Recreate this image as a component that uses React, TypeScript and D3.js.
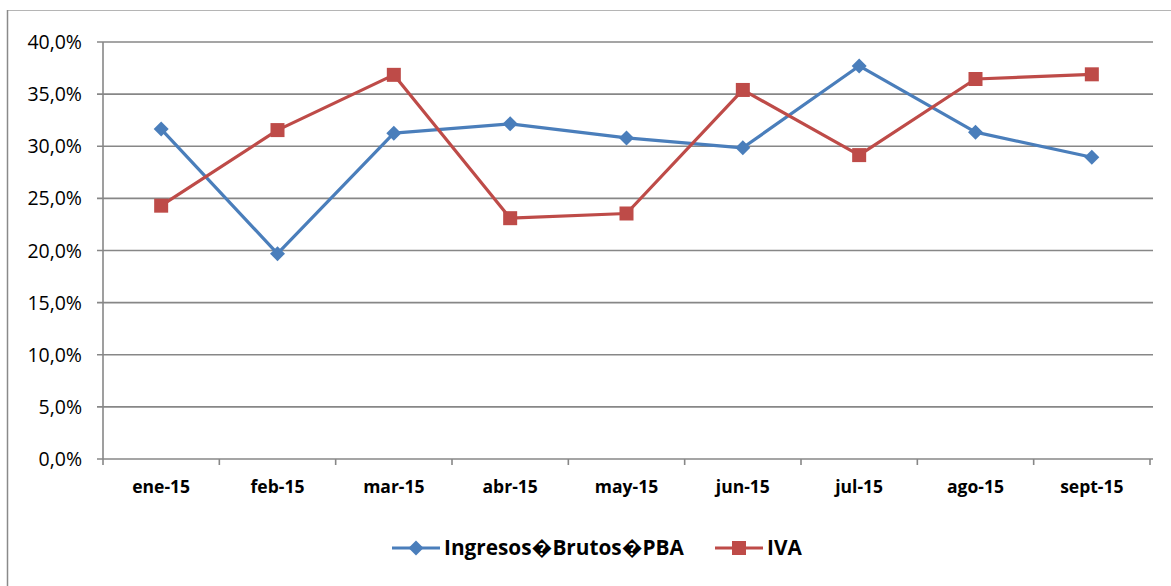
import { useEffect, useRef } from "react";
import * as d3 from "d3";

const months = ["ene-15", "feb-15", "mar-15", "abr-15", "may-15", "jun-15", "jul-15", "ago-15", "sept-15"];
const ingresosBrutos = [31.65, 19.7, 31.25, 32.15, 30.8, 29.85, 37.7, 31.35, 28.95];
const iva = [24.3, 31.55, 36.85, 23.1, 23.55, 35.4, 29.15, 36.45, 36.9];
const yTicks = [0, 5, 10, 15, 20, 25, 30, 35, 40];

const seriesList = [
  { name: "Ingresos\uFFFDBrutos\uFFFDPBA", values: ingresosBrutos, color: "#4a7ebb", marker: "diamond" },
  { name: "IVA", values: iva, color: "#be4b48", marker: "square" },
];

const App = () => {
  const svgRef = useRef<SVGSVGElement>(null);

  useEffect(() => {
    if (!svgRef.current) return;
    const svg = d3.select(svgRef.current);
    svg.selectAll("*").remove();

    const width = 1171;
    const height = 586;
    const margin = { top: 42, right: 21, bottom: 127, left: 103 };
    const innerWidth = width - margin.left - margin.right;
    const innerHeight = height - margin.top - margin.bottom;
    const font = "'Open Sans', Lato, sans-serif";
    const grid = "#878787";

    svg.attr("width", width).attr("height", height);

    // borde del gráfico
    svg.append("line").attr("x1", 7).attr("x2", width).attr("y1", 10.5).attr("y2", 10.5)
      .attr("stroke", "#b5b5b5").attr("stroke-width", 1.2);
    svg.append("line").attr("x1", 7.5).attr("x2", 7.5).attr("y1", 10).attr("y2", height)
      .attr("stroke", "#8a8a8a").attr("stroke-width", 1.5);

    const g = svg.append("g").attr("transform", `translate(${margin.left},${margin.top})`);

    const x = d3.scaleBand().domain(months).range([0, innerWidth]);
    const y = d3.scaleLinear().domain([0, 40]).range([innerHeight, 0]);

    // líneas de cuadrícula
    g.selectAll(".grid").data(yTicks).enter().append("line")
      .attr("x1", -6).attr("x2", innerWidth + 3)
      .attr("y1", (d) => y(d)).attr("y2", (d) => y(d))
      .attr("stroke", grid).attr("stroke-width", 1.6);

    // eje y
    g.append("line").attr("x1", 0).attr("x2", 0).attr("y1", 0).attr("y2", innerHeight)
      .attr("stroke", grid).attr("stroke-width", 1.6);
    g.selectAll(".ylab").data(yTicks).enter().append("text")
      .attr("x", -21).attr("y", (d) => y(d)).attr("dy", "0.36em")
      .attr("text-anchor", "end").attr("font-family", font).attr("font-size", 19.5)
      .attr("fill", "#000")
      .text((d) => d3.format(".1f")(d).replace(".", ",") + "%");

    // eje x
    const bounds = months.map((m) => x(m) as number).concat([innerWidth]);
    g.selectAll(".xtick").data(bounds).enter().append("line")
      .attr("x1", (d) => d).attr("x2", (d) => d)
      .attr("y1", innerHeight).attr("y2", innerHeight + 6)
      .attr("stroke", grid).attr("stroke-width", 1.6);
    g.selectAll(".xlab").data(months).enter().append("text")
      .attr("x", (d) => (x(d) as number) + x.bandwidth() / 2)
      .attr("y", innerHeight + 34)
      .attr("text-anchor", "middle").attr("font-family", font).attr("font-size", 17.5)
      .attr("font-weight", "bold").attr("fill", "#000")
      .text((d) => d);

    const line = d3.line<number>()
      .x((_, i) => (x(months[i]) as number) + x.bandwidth() / 2)
      .y((d) => y(d));

    const drawMarker = (sel: any, kind: string, color: string, cx: number, cy: number) => {
      if (kind === "diamond") {
        sel.append("path")
          .attr("d", `M${cx},${cy - 7.5}L${cx + 7.5},${cy}L${cx},${cy + 7.5}L${cx - 7.5},${cy}Z`)
          .attr("fill", color);
      } else {
        sel.append("rect").attr("x", cx - 7).attr("y", cy - 7).attr("width", 14).attr("height", 14)
          .attr("fill", color);
      }
    };

    seriesList.forEach((s) => {
      g.append("path").attr("d", line(s.values)).attr("fill", "none")
        .attr("stroke", s.color).attr("stroke-width", 3.2).attr("stroke-linejoin", "round");
      s.values.forEach((v, i) => {
        drawMarker(g, s.marker, s.color, (x(months[i]) as number) + x.bandwidth() / 2, y(v));
      });
    });

    // leyenda
    const legendY = 548;
    const legendX = [392, 715];
    seriesList.forEach((s, i) => {
      const lg = svg.append("g");
      lg.append("line").attr("x1", legendX[i]).attr("x2", legendX[i] + 48)
        .attr("y1", legendY).attr("y2", legendY).attr("stroke", s.color).attr("stroke-width", 3.2);
      drawMarker(lg, s.marker, s.color, legendX[i] + 24, legendY);
      lg.append("text").attr("x", legendX[i] + 52).attr("y", legendY).attr("dy", "0.36em")
        .attr("font-family", font).attr("font-size", 20.8).attr("font-weight", "bold").attr("fill", "#000")
        .text(s.name);
    });
  }, []);

  return (
    <div style={{ position: "absolute", left: 0, top: 0, background: "#fff" }}>
      <svg ref={svgRef}></svg>
    </div>
  );
};

export default App;
